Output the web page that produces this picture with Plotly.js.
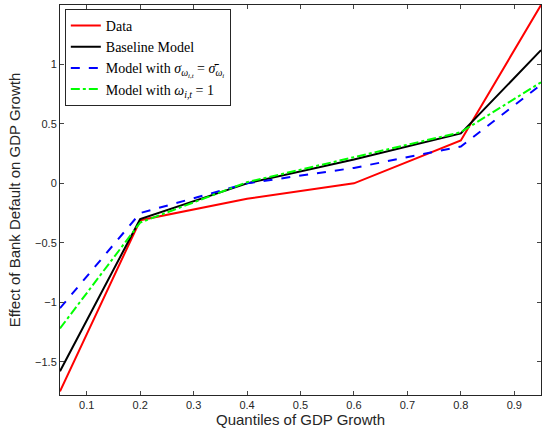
<!DOCTYPE html>
<html>
<head>
<meta charset="utf-8">
<script src="https://cdn.plot.ly/plotly-3.0.1.min.js"></script>
<style>body{margin:0}#plot{width:545px;height:434px}</style>
</head>
<body>
<div id="plot"></div>
<script>
const quantiles = [0.05, 0.2, 0.4, 0.6, 0.8, 0.95];
const dataValues = [-1.75, -0.31, -0.13, 0.0, 0.36, 1.5];
const baselineValues = [-1.58, -0.3, 0.0, 0.2, 0.42, 1.12];
const sigmaValues = [-1.05, -0.25, 0.0, 0.13, 0.31, 0.83];
const omegaValues = [-1.22, -0.33, 0.01, 0.22, 0.43, 0.85];

const traces = [
  { x: quantiles, y: dataValues, mode: 'lines', name: 'Data', line: { color: '#ff0000', width: 2 } },
  { x: quantiles, y: baselineValues, mode: 'lines', name: 'Baseline Model', line: { color: '#000000', width: 2 } },
  { x: quantiles, y: sigmaValues, mode: 'lines', name: 'Model with <i>σ</i><sub><i>ω<sub>i,t</sub></i></sub> = <i>σ̄</i><sub><i>ω<sub>i</sub></i></sub>',
    line: { color: '#0000ff', width: 2, dash: 'dash' } },
  { x: quantiles, y: omegaValues, mode: 'lines', name: 'Model with <i>ω</i><sub><i>i,t</i></sub> = 1',
    line: { color: '#00ff00', width: 2, dash: 'dashdot' } },
];

Plotly.newPlot('plot', traces, {
  width: 545, height: 434,
  margin: { l: 60, r: 4, t: 5, b: 39 },
  paper_bgcolor: '#fff', plot_bgcolor: '#fff',
  font: { family: 'Liberation Sans, Arial', size: 11, color: '#262626' },
  xaxis: {
    range: [0.05, 0.95], tickvals: [0.1,0.2,0.3,0.4,0.5,0.6,0.7,0.8,0.9],
    showgrid: false, zeroline: false, ticks: 'inside', ticklen: 4, mirror: 'ticks',
    showline: true, linecolor: '#262626', linewidth: 1,
    title: { text: 'Quantiles of GDP Growth', font: { size: 15 }, standoff: 4 }
  },
  yaxis: {
    range: [-1.78, 1.5], tickvals: [-1.5,-1,-0.5,0,0.5,1],
    showgrid: false, zeroline: false, ticks: 'inside', ticklen: 4, mirror: 'ticks',
    showline: true, linecolor: '#262626', linewidth: 1,
    title: { text: 'Effect of Bank Default on GDP Growth', font: { size: 15 }, standoff: 10 }
  },
  legend: {
    x: 0.01, y: 0.99, xanchor: 'left', yanchor: 'top',
    bordercolor: '#262626', borderwidth: 1, bgcolor: '#fff',
    font: { family: 'Liberation Serif, Times New Roman', size: 14, color: '#000' },
    tracegroupgap: 0
  },
  showlegend: true
}, { displayModeBar: false });
</script>
</body>
</html>
